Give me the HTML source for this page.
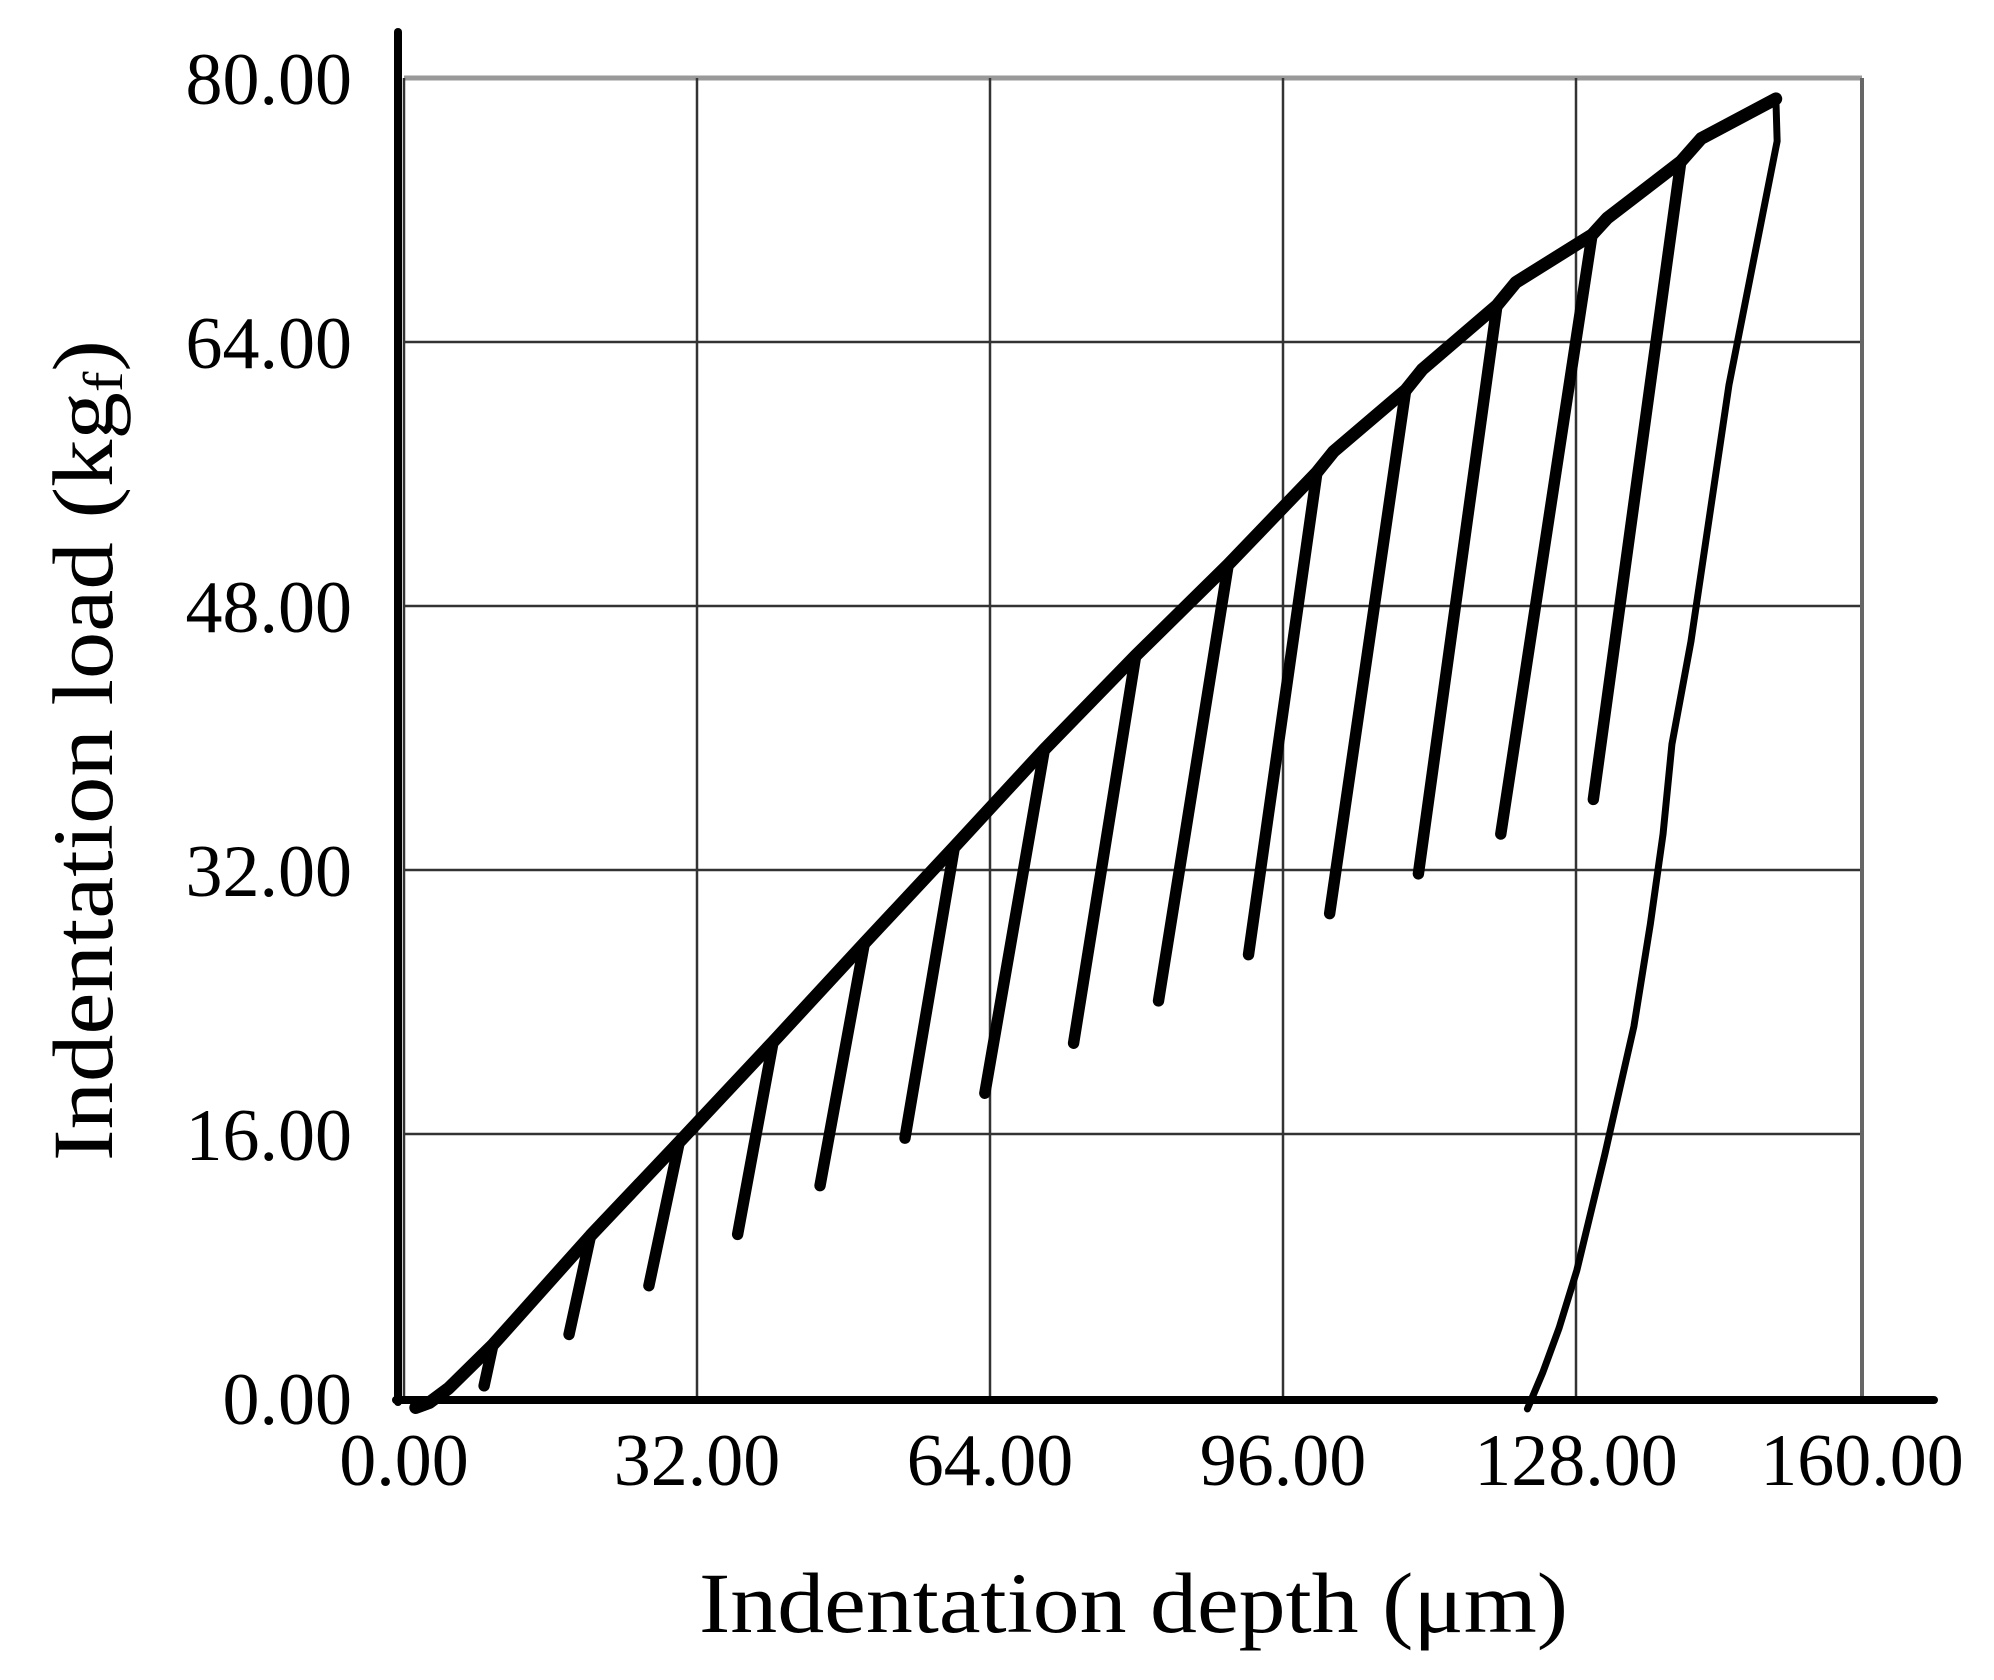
<!DOCTYPE html>
<html><head><meta charset="utf-8"><style>html,body{margin:0;padding:0;background:#fff}</style></head>
<body>
<svg xmlns="http://www.w3.org/2000/svg" width="1994" height="1675" viewBox="0 0 1994 1675">
<rect width="1994" height="1675" fill="#fff"/>
<g stroke="#333" stroke-width="2.5">
<line x1="404" y1="78" x2="1862" y2="78" stroke="#999" stroke-width="5"/>
<line x1="404" y1="342" x2="1862" y2="342"/>
<line x1="404" y1="606" x2="1862" y2="606"/>
<line x1="404" y1="870" x2="1862" y2="870"/>
<line x1="404" y1="1134" x2="1862" y2="1134"/>
<line x1="404" y1="78" x2="404" y2="1398"/>
<line x1="697" y1="78" x2="697" y2="1398"/>
<line x1="990" y1="78" x2="990" y2="1398"/>
<line x1="1283" y1="78" x2="1283" y2="1398"/>
<line x1="1576" y1="78" x2="1576" y2="1398"/>
<line x1="1862" y1="78" x2="1862" y2="1398" stroke="#666" stroke-width="4"/>
</g>
<line x1="398" y1="32" x2="398" y2="1402" stroke="#000" stroke-width="8" stroke-linecap="round"/>
<line x1="396" y1="1400" x2="1934" y2="1400" stroke="#000" stroke-width="8" stroke-linecap="round"/>
<g transform="scale(1.2831) translate(318,0) scale(0.988,1) translate(-318,0)" fill="none" stroke="#000" stroke-linejoin="round" stroke-linecap="round">
<path stroke-width="10" d="M324,1097 L335,1093 L350,1082 L385,1048 L462,963 L532,890 L606,812 L678,735 L749,660 L820,584 L892,511 L965,440 L1035,368 L1048,352 L1105,304 L1118,288 L1177,238 L1192,220 L1252,183 L1264,170 L1322,126 L1338,108 L1397,77"/>
<g stroke-width="9">
<path d="M385,1048 L378,1080"/>
<path d="M462,963 L445,1040"/>
<path d="M532,890 L508,1002"/>
<path d="M606,812 L578,962"/>
<path d="M678,735 L643,924"/>
<path d="M749,660 L710,887"/>
<path d="M820,584 L773,852"/>
<path d="M892,511 L843,813"/>
<path d="M965,440 L910,780"/>
<path d="M1035,368 L981,744"/>
<path d="M1105,304 L1045,712"/>
<path d="M1177,238 L1115,681"/>
<path d="M1252,183 L1180,650"/>
<path d="M1322,126 L1253,623"/>
</g>
<path stroke-width="5.5" d="M1397,77 L1398,110 L1390,150 L1380,200 L1360,300 L1345,400 L1330,500 L1315,580 L1308,650 L1298,720 L1285,800 L1262,900 L1240,990 L1226,1035 L1213,1070 L1201,1098"/>
</g>
<g font-family="Liberation Serif, serif" font-size="74" fill="#000">
<g text-anchor="end">
<text x="352" y="104">80.00</text>
<text x="352" y="368">64.00</text>
<text x="352" y="632">48.00</text>
<text x="352" y="896">32.00</text>
<text x="352" y="1160">16.00</text>
<text x="352" y="1424">0.00</text>
</g>
<g text-anchor="middle">
<text x="404" y="1485">0.00</text>
<text x="697" y="1485">32.00</text>
<text x="990" y="1485">64.00</text>
<text x="1283" y="1485">96.00</text>
<text x="1576" y="1485">128.00</text>
<text x="1862" y="1485">160.00</text>
</g>
<text x="699" y="1632" font-size="86" textLength="869" lengthAdjust="spacingAndGlyphs">Indentation depth (μm)</text>
<text transform="translate(112,1161) rotate(-90)" font-size="86" textLength="821" lengthAdjust="spacingAndGlyphs">Indentation load (kg<tspan font-size="56" dy="10">f</tspan><tspan dy="-10">)</tspan></text>
</g>
</svg>
</body></html>
